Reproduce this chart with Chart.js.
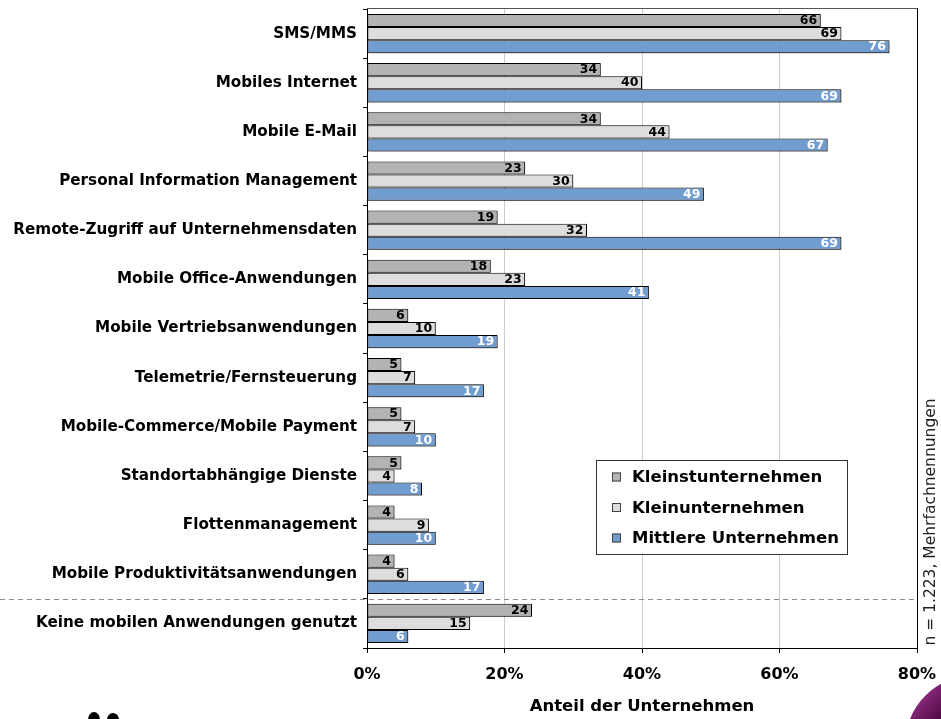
<!DOCTYPE html>
<html lang="de">
<head>
<meta charset="utf-8">
<title>Mobile Anwendungen nach Unternehmensgröße</title>
<script src="https://cdn.jsdelivr.net/npm/chart.js@4/dist/chart.umd.min.js"></script>
<style>
  html, body { margin: 0; padding: 0; background: #fff; }
  #wrap { position: relative; width: 941px; height: 719px; }
</style>
</head>
<body>
<div id="wrap"><canvas id="usageChart"></canvas></div>
<script>
// ---- DATA ----
const categories = [
  'SMS/MMS',
  'Mobiles Internet',
  'Mobile E-Mail',
  'Personal Information Management',
  'Remote-Zugriff auf Unternehmensdaten',
  'Mobile Office-Anwendungen',
  'Mobile Vertriebsanwendungen',
  'Telemetrie/Fernsteuerung',
  'Mobile-Commerce/Mobile Payment',
  'Standortabhängige Dienste',
  'Flottenmanagement',
  'Mobile Produktivitätsanwendungen',
  'Keine mobilen Anwendungen genutzt'
];
const seriesNames = ['Kleinstunternehmen', 'Kleinunternehmen', 'Mittlere Unternehmen'];
const kleinst  = [66, 34, 34, 23, 19, 18, 6, 5, 5, 5, 4, 4, 24];
const klein    = [69, 40, 44, 30, 32, 23, 10, 7, 7, 4, 9, 6, 15];
const mittlere = [76, 69, 67, 49, 69, 41, 19, 17, 10, 8, 10, 17, 6];
const xTicks = [0, 20, 40, 60, 80];
const axisTitle = 'Anteil der Unternehmen';
const sampleNote = 'n = 1.223, Mehrfachnennungen';

const FONT = '"DejaVu Sans", Arial, sans-serif';

// ---- PLUGINS ----
// slight drop shadow under the bars, like the original
const barShadow = {
  id: 'barShadow',
  beforeDatasetDraw(chart) {
    const ctx = chart.ctx;
    ctx.save();
    ctx.shadowColor = 'rgba(0,0,0,0.28)';
    ctx.shadowOffsetX = 2;
    ctx.shadowOffsetY = 1;
    ctx.shadowBlur = 0;
  },
  afterDatasetDraw(chart) { chart.ctx.restore(); }
};

// dashed line separating the last category
const separator = {
  id: 'separator',
  beforeDatasetsDraw(chart) {
    const { ctx, chartArea, scales: { y } } = chart;
    const n = categories.length;
    const yy = Math.round((y.getPixelForValue(n - 2) + y.getPixelForValue(n - 1)) / 2) + 0.5;
    ctx.save();
    ctx.strokeStyle = '#8c8c8c';
    ctx.lineWidth = 1;
    ctx.setLineDash([5, 4]);
    ctx.beginPath();
    ctx.moveTo(0, yy);
    ctx.lineTo(chartArea.right, yy);
    ctx.stroke();
    ctx.restore();
  }
};

// value labels inside the bar ends
const barValues = {
  id: 'barValues',
  afterDatasetsDraw(chart) {
    const ctx = chart.ctx;
    ctx.save();
    ctx.font = 'bold 12.5px ' + FONT;
    ctx.textAlign = 'right';
    ctx.textBaseline = 'middle';
    chart.data.datasets.forEach((ds, i) => {
      const meta = chart.getDatasetMeta(i);
      ctx.fillStyle = ds.labelColor;
      meta.data.forEach((bar, j) => {
        ctx.fillText(String(ds.data[j]), bar.x - 3.5, bar.y + 0.5);
      });
    });
    ctx.restore();
  }
};

// frame: top + right border of the plot area
const plotFrame = {
  id: 'plotFrame',
  afterDraw(chart) {
    const { ctx, chartArea: a } = chart;
    ctx.save();
    ctx.lineWidth = 1;
    ctx.strokeStyle = '#555';
    ctx.beginPath();
    ctx.moveTo(a.left, Math.round(a.top) - 0.5);
    ctx.lineTo(a.right, Math.round(a.top) - 0.5);
    ctx.stroke();
    ctx.strokeStyle = '#000';
    ctx.beginPath();
    ctx.moveTo(Math.round(a.right) + 0.5, a.top - 1);
    ctx.lineTo(Math.round(a.right) + 0.5, a.bottom);
    ctx.stroke();
    ctx.restore();
  }
};

// boxed legend inside the plot
const boxLegend = {
  id: 'boxLegend',
  afterDraw(chart) {
    const { ctx, chartArea: a } = chart;
    const left = a.left + 229, top = a.top + 451, w = 251, h = 94;
    ctx.save();
    ctx.fillStyle = '#fff';
    ctx.fillRect(left, top, w, h);
    ctx.strokeStyle = '#333';
    ctx.lineWidth = 1;
    ctx.strokeRect(left + 0.5, top + 0.5, w, h);
    ctx.font = 'bold 16.5px ' + FONT;
    ctx.textBaseline = 'middle';
    ctx.textAlign = 'left';
    chart.data.datasets.forEach((ds, i) => {
      const cy = top + 17 + i * 30.5;
      ctx.fillStyle = ds.backgroundColor;
      ctx.fillRect(left + 16, cy - 4.5, 9, 9);
      ctx.strokeStyle = '#444';
      ctx.strokeRect(left + 16.5, cy - 4, 8, 8);
      ctx.fillStyle = '#000';
      ctx.fillText(ds.label, left + 36, cy + 1);
    });
    ctx.restore();
  }
};

// vertical sample note on the right + bits of the logos at the bottom
const sideNote = {
  id: 'sideNote',
  afterDraw(chart) {
    const { ctx, chartArea: a, width, height } = chart;
    ctx.save();
    ctx.translate(a.right + 14, 522);
    ctx.rotate(-Math.PI / 2);
    ctx.font = '15.5px ' + FONT;
    ctx.fillStyle = '#222';
    ctx.textAlign = 'center';
    ctx.textBaseline = 'middle';
    ctx.fillText(sampleNote, 0, 0);
    ctx.restore();

    // purple swoosh, bottom right corner
    ctx.save();
    const g = ctx.createLinearGradient(width - 34, height - 32, width, height);
    g.addColorStop(0, '#d9b8d2');
    g.addColorStop(0.35, '#8a2a7c');
    g.addColorStop(1, '#4e0a45');
    ctx.fillStyle = g;
    ctx.beginPath();
    ctx.arc(width + 34, height + 26, 70, Math.PI, Math.PI * 1.5);
    ctx.lineTo(width + 34, height + 26);
    ctx.closePath();
    ctx.fill();
    // black logo tops, bottom left corner
    ctx.fillStyle = '#000';
    ctx.beginPath();
    ctx.ellipse(94, height + 1, 6, 8, 0, 0, Math.PI * 2);
    ctx.ellipse(113, height + 1, 6, 7, 0, 0, Math.PI * 2);
    ctx.fill();
    ctx.restore();
  }
};

// ---- CHART ----
new Chart(document.getElementById('usageChart'), {
  type: 'bar',
  data: {
    labels: categories,
    datasets: [
      { label: seriesNames[0], data: kleinst,  backgroundColor: '#b3b3b3', labelColor: '#000' },
      { label: seriesNames[1], data: klein,    backgroundColor: '#dddddd', labelColor: '#000' },
      { label: seriesNames[2], data: mittlere, backgroundColor: '#729dd0', labelColor: '#fff' }
    ].map(ds => Object.assign(ds, {
      borderColor: '#000',
      borderWidth: 1,
      borderSkipped: false,
      categoryPercentage: 0.8,
      barPercentage: 1.0
    }))
  },
  options: {
    indexAxis: 'y',
    responsive: true,
    maintainAspectRatio: false,
    animation: false,
    layout: { padding: { top: 9, right: 24, bottom: 0, left: 0 } },
    plugins: {
      legend: { display: false },
      tooltip: { enabled: false }
    },
    scales: {
      x: {
        min: xTicks[0],
        max: xTicks[xTicks.length - 1],
        afterBuildTicks: s => { s.ticks = xTicks.map(v => ({ value: v })); },
        afterFit: s => { s.height = 71; s.paddingLeft = 0; s.paddingRight = 0; },
        grid: { color: '#cccccc', tickColor: '#000', tickLength: 5 },
        border: { color: '#000', width: 1 },
        ticks: {
          padding: 12,
          color: '#000',
          font: { family: FONT, size: 16, weight: 'bold' },
          callback: v => v + '%'
        },
        title: {
          display: true,
          text: axisTitle,
          color: '#000',
          font: { family: FONT, size: 16.5, weight: 'bold' },
          padding: { top: 4, bottom: 2 }
        }
      },
      y: {
        afterFit: s => { s.width = 367; s.paddingTop = 0; s.paddingBottom = 0; },
        grid: { drawOnChartArea: false, tickColor: '#000', tickLength: 4 },
        border: { color: '#000', width: 1 },
        ticks: {
          padding: 6,
          color: '#000',
          autoSkip: false,
          font: { family: FONT, size: 15.2, weight: 'bold' }
        }
      }
    }
  },
  plugins: [barShadow, separator, barValues, plotFrame, boxLegend, sideNote]
});
</script>
</body>
</html>
